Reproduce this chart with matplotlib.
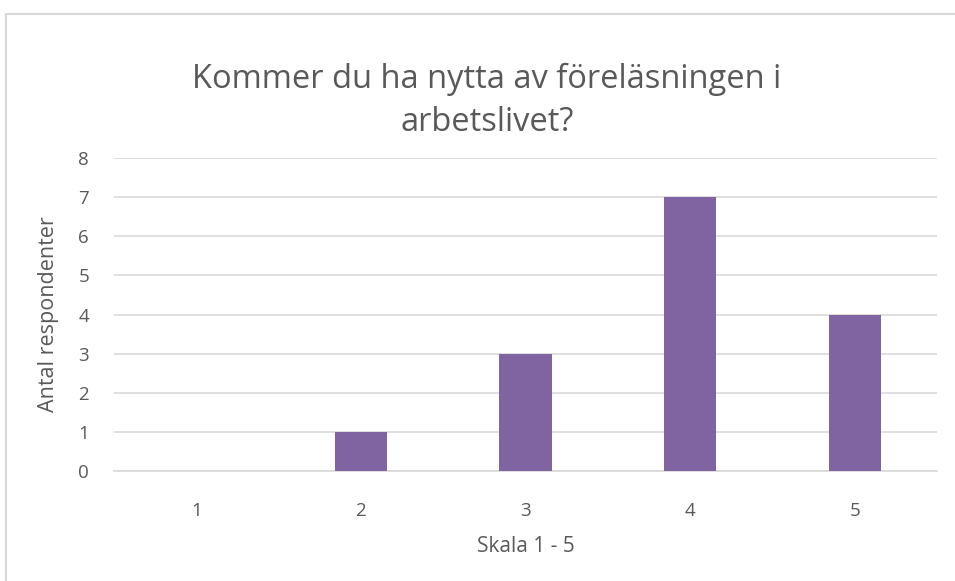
import matplotlib.pyplot as plt
from matplotlib.patches import Rectangle

categories = ['1', '2', '3', '4', '5']
values = [0, 1, 3, 7, 4]
y_ticks = [0, 1, 2, 3, 4, 5, 6, 7, 8]

plt.rcParams['font.family'] = ['Open Sans', 'DejaVu Sans']
text_color = '#595959'

fig = plt.figure(figsize=(9.55, 5.81), dpi=100)
ax = fig.add_axes([114 / 955, 1 - 471 / 581, 823 / 955, 313 / 581])

x = list(range(1, len(categories) + 1))
ax.bar(x, values, width=0.316, color='#8064A2', zorder=3)

ax.set_xlim(0.5, 5.5)
ax.set_ylim(0, 8)
ax.set_xticks(x)
ax.set_xticklabels(categories)
ax.set_yticks(y_ticks)
ax.tick_params(length=0, labelsize=13.5, colors=text_color)
ax.tick_params(axis='x', pad=22)
ax.tick_params(axis='y', pad=18)
ax.grid(axis='y', color='#D9D9D9', linewidth=1.2, zorder=0)
for side in ['top', 'right', 'left']:
    ax.spines[side].set_visible(False)
ax.spines['bottom'].set_color('#D9D9D9')
ax.spines['bottom'].set_linewidth(1.2)

ax.set_xlabel('Skala 1 - 5', fontsize=15, color=text_color, labelpad=12)
ax.set_ylabel('Antal respondenter', fontsize=15.5, color=text_color, labelpad=14)

fig.text(0.51, 0.827, 'Kommer du ha nytta av föreläsningen i\narbetslivet?',
         ha='center', va='center', fontsize=23.5, color=text_color,
         linespacing=1.4)

# chart frame
fig.patches.append(Rectangle((6 / 955, -0.05), 1.0, 1 - 14 / 581 + 0.05,
                             transform=fig.transFigure, fill=False,
                             edgecolor='#D9D9D9', linewidth=1.5))

fig.savefig('out.png', dpi=100)
